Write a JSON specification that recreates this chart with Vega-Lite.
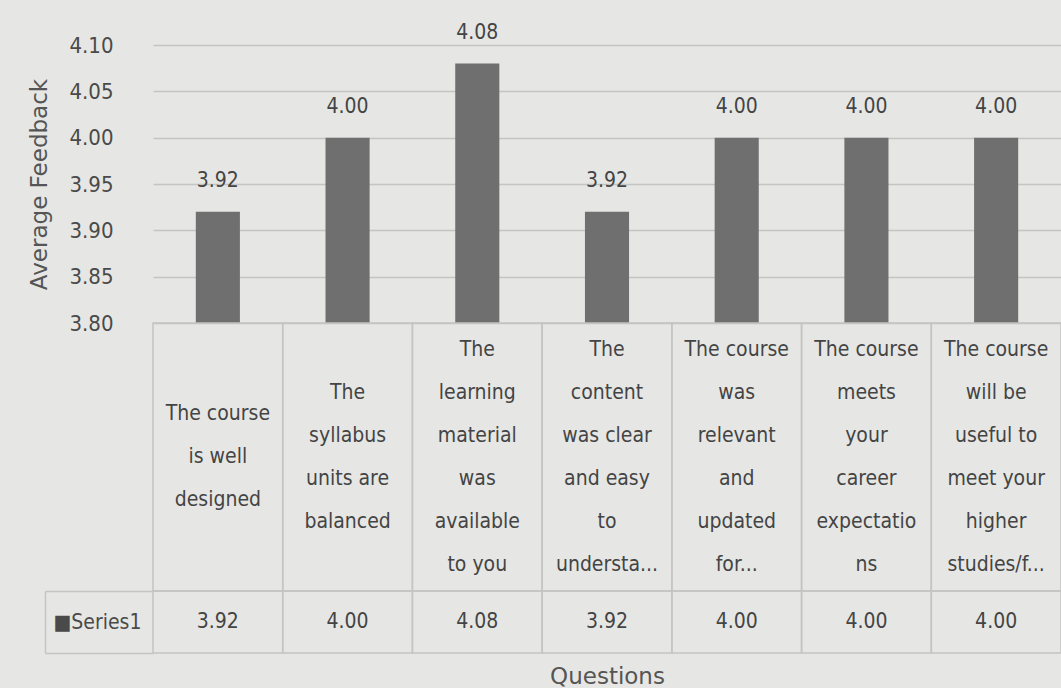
{
  "$schema": "https://vega.github.io/schema/vega-lite/v6.json",
  "background": "#e6e7e4",
  "autosize": {"type": "pad"},
  "padding": {"left": 28, "top": 21, "right": 0, "bottom": 0},
  "config": {
    "view": {"stroke": null},
    "font": "DejaVu Sans Condensed, Liberation Sans, sans-serif",
    "concat": {"spacing": 0}
  },
  "bounds": "flush",
  "spacing": 0,
  "datasets": {
    "rows": [
      {"q": "The course\nis well\ndesigned", "v": 3.92, "s": "Series1"},
      {"q": "The\nsyllabus\nunits are\nbalanced", "v": 4.00, "s": "Series1"},
      {"q": "The\nlearning\nmaterial\nwas\navailable\nto you", "v": 4.08, "s": "Series1"},
      {"q": "The\ncontent\nwas clear\nand easy\nto\nundersta...", "v": 3.92, "s": "Series1"},
      {"q": "The course\nwas\nrelevant\nand\nupdated\nfor...", "v": 4.00, "s": "Series1"},
      {"q": "The course\nmeets\nyour\ncareer\nexpectatio\nns", "v": 4.00, "s": "Series1"},
      {"q": "The course\nwill be\nuseful to\nmeet your\nhigher\nstudies/f...", "v": 4.00, "s": "Series1"}
    ]
  },
  "resolve": {"scale": {"x": "independent", "y": "independent"}},
  "vconcat": [
    {
      "width": 908,
      "height": 278,
      "data": {"name": "rows"},
      "encoding": {
        "x": {"field": "q", "type": "nominal", "sort": null, "axis": null,
              "scale": {"paddingInner": 0, "paddingOuter": 0}},
        "y": {"field": "v", "type": "quantitative",
              "scale": {"domain": [3.8, 4.1], "nice": false, "zero": false},
              "axis": {"title": "Average Feedback", "values": [3.8, 3.85, 3.9, 3.95, 4.0, 4.05, 4.1],
                       "format": ".2f", "offset": 28, "domain": false, "ticks": false,
                       "labelPadding": 12, "labelFontSize": 22, "labelColor": "#4a4a4a",
                       "titleFontSize": 23, "titleColor": "#555", "titleFontWeight": "normal",
                       "titlePadding": 17, "titleFont": "DejaVu Sans",
                       "grid": true, "gridColor": "#c4c4c2", "gridWidth": 1.5}}
      },
      "layer": [
        {"mark": {"type": "bar", "color": "#6f6f6f", "width": {"band": 0.34}, "clip": true}},
        {"mark": {"type": "text", "baseline": "bottom", "dy": -21, "fontSize": 21, "color": "#444"},
         "encoding": {"text": {"field": "v", "type": "quantitative", "format": ".2f"}}}
      ]
    },
    {
      "width": 908,
      "height": 268,
      "data": {"name": "rows"},
      "encoding": {
        "x": {"field": "q", "type": "nominal", "sort": null, "axis": null,
              "scale": {"paddingInner": 0, "paddingOuter": 0}}
      },
      "layer": [
        {"mark": {"type": "rect", "fill": null, "stroke": "#c4c4c2", "strokeWidth": 1.5}},
        {"mark": {"type": "text", "lineBreak": "\n", "lineHeight": 43, "fontSize": 21, "color": "#444", "baseline": "middle",
                  "dy": {"expr": "-(length(split(datum.q, '\\n')) - 1) * 21.5"}},
         "encoding": {"text": {"field": "q"}}}
      ]
    },
    {
      "width": 908,
      "height": 62,
      "data": {"name": "rows"},
      "encoding": {
        "x": {"field": "q", "type": "nominal", "sort": null,
              "scale": {"paddingInner": 0, "paddingOuter": 0},
              "axis": {"title": "Questions", "labels": false, "ticks": false, "domain": false,
                       "titleFontSize": 23, "titleColor": "#555", "titleFontWeight": "normal",
                       "titlePadding": 12, "titleFont": "DejaVu Sans"}},
        "y": {"field": "s", "type": "nominal",
              "scale": {"paddingInner": 0, "paddingOuter": 0},
              "axis": {"title": null, "offset": 108, "tickBand": "extent", "tickSize": -108,
                       "tickColor": "#c4c4c2", "tickWidth": 1.5, "domainColor": "#c4c4c2", "domainWidth": 1.5,
                       "labelAlign": "left", "labelPadding": 100, "labelFontSize": 21, "labelColor": "#4a4a4a",
                       "labelExpr": "datum.value === 'Series1' ? '■Series1' : ''"}}
      },
      "layer": [
        {"mark": {"type": "rect", "fill": null, "stroke": "#c4c4c2", "strokeWidth": 1.5}},
        {"mark": {"type": "text", "fontSize": 21, "color": "#444"},
         "encoding": {"text": {"field": "v", "type": "quantitative", "format": ".2f"}}}
      ]
    }
  ]
}
